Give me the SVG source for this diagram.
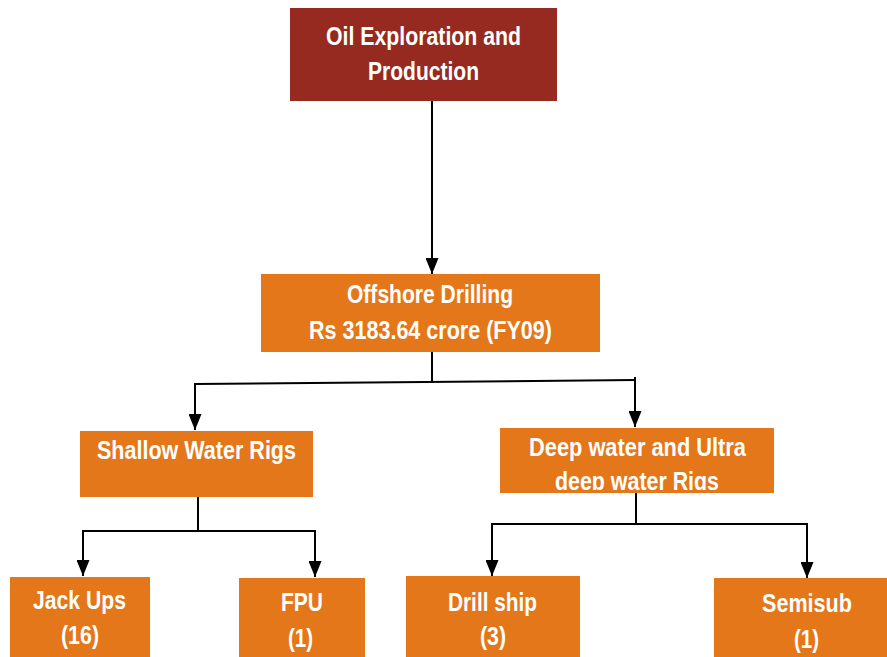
<svg xmlns="http://www.w3.org/2000/svg" width="887" height="657" viewBox="0 0 887 657">
<style>
.root{fill:#962A20}
.box{fill:#E47719}
.t{font-family:"Liberation Sans",Arial,sans-serif;font-weight:bold;font-size:25px;fill:#FFFFFF}
.c{stroke:#000;stroke-width:2;fill:none}
.ca{stroke:#000;stroke-width:2;fill:none;marker-end:url(#ah)}
</style>
<defs>
<marker id="ah" markerUnits="userSpaceOnUse" markerWidth="16" markerHeight="13" refX="16" refY="6.5" orient="auto" viewBox="0 0 16 13">
<path d="M0,0 L16,6.5 L0,13 z" fill="#000"/>
</marker>
<clipPath id="deepclip"><rect x="500" y="428" width="274" height="62"/></clipPath>
</defs>
<rect width="887" height="657" fill="#FFFFFF"/>
<g id="connectors">
<line class="ca" x1="432" y1="101" x2="432" y2="274"/>
<line class="c" x1="432" y1="352" x2="432" y2="381"/>
<line class="c" x1="195" y1="384" x2="635" y2="380"/>
<line class="ca" x1="195" y1="383" x2="195" y2="430"/>
<line class="ca" x1="635" y1="377" x2="635" y2="427"/>
<line class="c" x1="198" y1="497" x2="198" y2="531"/>
<line class="c" x1="83" y1="531" x2="315" y2="531"/>
<line class="ca" x1="83" y1="530" x2="83" y2="576"/>
<line class="ca" x1="315" y1="530" x2="315" y2="577"/>
<line class="c" x1="636" y1="493" x2="636" y2="524"/>
<line class="c" x1="492" y1="524" x2="807" y2="524"/>
<line class="ca" x1="492" y1="523" x2="492" y2="576"/>
<line class="ca" x1="807" y1="523" x2="807" y2="578"/>
</g>
<g id="oil">
<rect class="root" x="290" y="8" width="267" height="93"/>
<text class="t" x="326" y="45" textLength="195" lengthAdjust="spacingAndGlyphs">Oil Exploration and</text>
<text class="t" x="368" y="80" textLength="111" lengthAdjust="spacingAndGlyphs">Production</text>
</g>
<g id="offshore">
<rect class="box" x="261" y="274" width="339" height="78"/>
<text class="t" x="347" y="303" textLength="166" lengthAdjust="spacingAndGlyphs">Offshore Drilling</text>
<text class="t" x="309" y="339" textLength="243" lengthAdjust="spacingAndGlyphs">Rs 3183.64 crore (FY09)</text>
</g>
<g id="shallow">
<rect class="box" x="80" y="431" width="233" height="66"/>
<text class="t" x="97" y="459" textLength="199" lengthAdjust="spacingAndGlyphs">Shallow Water Rigs</text>
</g>
<g id="deep">
<rect class="box" x="500" y="428" width="274" height="65"/>
<g clip-path="url(#deepclip)">
<text class="t" x="529" y="456" textLength="217" lengthAdjust="spacingAndGlyphs">Deep water and Ultra</text>
<text class="t" x="555" y="490" textLength="164" lengthAdjust="spacingAndGlyphs">deep water Rigs</text>
</g>
</g>
<g id="jackups">
<rect class="box" x="10" y="577" width="140" height="80"/>
<text class="t" x="33" y="609" textLength="93" lengthAdjust="spacingAndGlyphs">Jack Ups</text>
<text class="t" x="61" y="644" textLength="38" lengthAdjust="spacingAndGlyphs">(16)</text>
</g>
<g id="fpu">
<rect class="box" x="239" y="578" width="126" height="79"/>
<text class="t" x="281" y="611" textLength="42" lengthAdjust="spacingAndGlyphs">FPU</text>
<text class="t" x="288" y="647" textLength="25" lengthAdjust="spacingAndGlyphs">(1)</text>
</g>
<g id="drillship">
<rect class="box" x="406" y="576" width="174" height="81"/>
<text class="t" x="448" y="611" textLength="89" lengthAdjust="spacingAndGlyphs">Drill ship</text>
<text class="t" x="480" y="645" textLength="26" lengthAdjust="spacingAndGlyphs">(3)</text>
</g>
<g id="semisub">
<rect class="box" x="714" y="578" width="173" height="79"/>
<text class="t" x="762" y="612" textLength="90" lengthAdjust="spacingAndGlyphs">Semisub</text>
<text class="t" x="794" y="648" textLength="25" lengthAdjust="spacingAndGlyphs">(1)</text>
</g>
</svg>
